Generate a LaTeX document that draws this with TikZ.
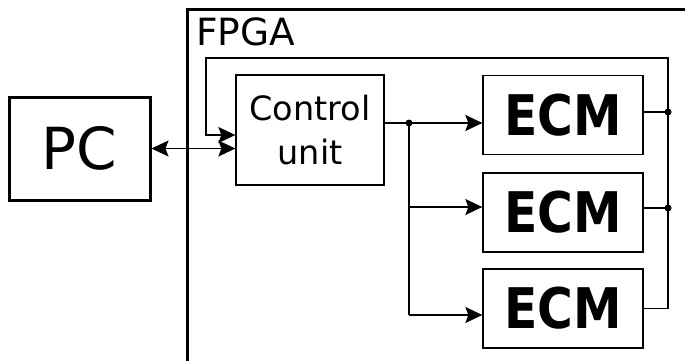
\documentclass[tikz,border=0pt]{standalone}
\usepackage{fontspec}
\usepackage{graphicx}
\setmainfont{DejaVu Sans}
\usetikzlibrary{arrows.meta}
\newcommand{\ecmtext}{\scalebox{0.87}[1]{ECM}}
\begin{document}
\begin{tikzpicture}[
    x=1pt, y=-1pt,
    every node/.style={inner sep=0pt},
    outer/.style={draw, line width=3pt},
    blk/.style={draw, line width=1.3pt, align=center},
    ecm/.style={blk, minimum width=160pt, minimum height=79pt, font=\fontsize{56}{60}\selectfont\bfseries},
    wire/.style={line width=1.4pt},
    arr/.style={wire, -{Stealth[length=17pt, width=16pt, inset=3pt]}},
    dot/.style={circle, fill, minimum size=7pt}
  ]
  \useasboundingbox (0,0) rectangle (685,360);
  \clip (0,0) rectangle (685,360);

  % FPGA frame (runs off the page)
  \draw[outer] (187,9) rectangle (720,400);
  \node[anchor=base west, font=\fontsize{37.5}{40}\selectfont] (fpga) at (196,45) {FPGA};

  \node[outer, minimum width=141pt, minimum height=103pt, font=\fontsize{58}{60}\selectfont] (pc) at (79.5,148.5) {PC};
  \node[blk, minimum width=148pt, minimum height=110pt, font=\fontsize{33.5}{44}\selectfont] (ctrl) at (310,130) {Control\\unit};

  \node[ecm] (ecm1) at (563,115) {\ecmtext};
  \node[ecm] (ecm2) at (563,212.5) {\ecmtext};
  \node[ecm] (ecm3) at (563,308.5) {\ecmtext};

  \coordinate (split) at (409,123);
  \coordinate (bus) at (668,58);
  \coordinate (fb) at (206,58);
  \coordinate (in2) at ([yshift=5.5pt]ecm2.west);
  \coordinate (in3) at ([yshift=-6.5pt]ecm3.west);
  \coordinate (out1) at ([yshift=3pt]ecm1.east);
  \coordinate (out2) at ([yshift=4.5pt]ecm2.east);
  \coordinate (back) at ([yshift=-5pt]ctrl.west);

  % PC <-> control unit
  \draw[wire, {Stealth[length=17pt, width=16pt, inset=3pt]}-{Stealth[length=17pt, width=16pt, inset=3pt]}] (pc.east) -- (pc.east -| ctrl.west);

  % control unit to the ECMs
  \draw[wire] (ctrl.east |- split) -- (split);
  \draw[arr] (split) -- (split -| ecm1.west);
  \draw[wire] (split) -- (split |- in3);
  \draw[arr] (split |- in2) -- (in2);
  \draw[arr] (split |- in3) -- (in3);
  \node[dot] (d0) at (split) {};

  % ECM outputs back to the control unit
  \draw[arr] (ecm3.east) -| (bus) -- (fb) |- (back);
  \draw[wire] (out1) -- (out1 -| bus) node[dot] (d1) {};
  \draw[wire] (out2) -- (out2 -| bus) node[dot] (d2) {};
\end{tikzpicture}
\end{document}
